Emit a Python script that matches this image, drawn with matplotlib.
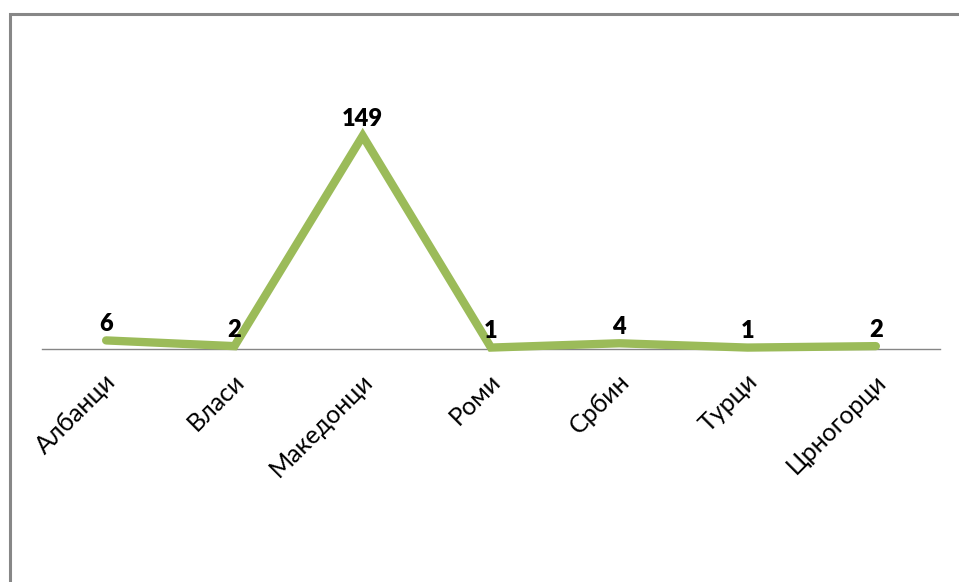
import matplotlib.pyplot as plt
import matplotlib.transforms as mtransforms
from matplotlib.patches import Rectangle

plt.rcParams['font.family'] = ['Lato', 'DejaVu Sans']

# Податоци
nacionalnosti = ['Албанци', 'Власи', 'Македонци', 'Роми', 'Србин', 'Турци', 'Црногорци']
broj = [6, 2, 149, 1, 4, 1, 2]

W, H = 959, 582
fig = plt.figure(figsize=(W / 100, H / 100), dpi=100)

# рамка околу графиконот
fig.patches.append(Rectangle((9.5 / W, -0.1), 1.1, 1 - 13.5 / H + 0.1,
                             transform=fig.transFigure, fill=False,
                             edgecolor='#878787', linewidth=2.2))

left, right, bottom, top = 42, 940, 349, 40
ax = fig.add_axes([left / W, 1 - bottom / H, (right - left) / W, (bottom - top) / H])

x = range(len(nacionalnosti))
ax.plot(x, broj, color='#9BBB59', linewidth=6, solid_capstyle='round',
        solid_joinstyle='miter', clip_on=False, zorder=3)

ax.set_xlim(-0.5, len(nacionalnosti) - 0.5)
ax.set_ylim(0, 216)

for xi, v in zip(x, broj):
    ax.annotate(str(v), (xi, v), xytext=(0, 4), textcoords='offset points',
                ha='center', va='bottom', fontsize=17, fontweight='heavy', color='black')

for s in ['top', 'right', 'left']:
    ax.spines[s].set_visible(False)
ax.spines['bottom'].set_color('#868686')
ax.spines['bottom'].set_linewidth(1)
ax.set_yticks([])
ax.set_xticks(list(x))
ax.set_xticklabels(nacionalnosti, rotation=45, ha='right', rotation_mode='anchor', fontsize=18)
ax.tick_params(axis='x', length=0, pad=15)
pomest = mtransforms.ScaledTranslation(-0.02, 0, fig.dpi_scale_trans)
for lbl in ax.get_xticklabels():
    lbl.set_transform(lbl.get_transform() + pomest)

fig.savefig('out.png', dpi=100)
